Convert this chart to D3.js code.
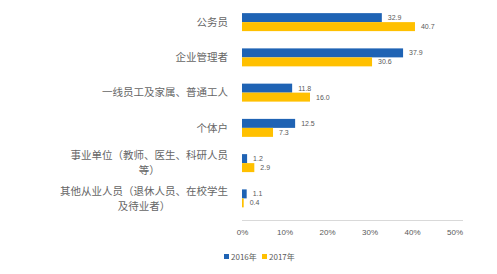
<!DOCTYPE html>
<html><head><meta charset="utf-8">
<script src="https://cdn.jsdelivr.net/npm/d3@7"></script>
<style>html,body{margin:0;padding:0;background:#fff;}svg{display:block;}</style>
</head><body>
<script>
const categories = [
  ["公务员"],
  ["企业管理者"],
  ["一线员工及家属、普通工人"],
  ["个体户"],
  ["事业单位（教师、医生、科研人员", "等）"],
  ["其他从业人员（退休人员、在校学生", "及待业者）"]
];
const seriesNames = ["2016年", "2017年"];
const values2016 = [32.9, 37.9, 11.8, 12.5, 1.2, 1.1];
const values2017 = [40.7, 30.6, 16.0, 7.3, 2.9, 0.4];
const tickValues = [0, 10, 20, 30, 40, 50];
const colors = ["#1f63b4", "#ffc000"];

const W = 497, H = 274;
const svg = d3.select("body").append("svg").attr("width", W).attr("height", H)
  .style("font-family", "'Noto Sans CJK SC', 'Noto Sans', sans-serif");

const x = d3.scaleLinear().domain([0, 50]).range([242, 454.5]);
const y0 = d3.scaleBand().domain(d3.range(categories.length)).range([4.5, 216]).paddingInner(0.49).paddingOuter(0.245);
const y1 = d3.scaleBand().domain([0, 1]).range([0, y0.bandwidth()]);

svg.append("line").attr("x1", x(0)).attr("x2", x(52)).attr("y1", 220.5).attr("y2", 220.5)
  .attr("stroke", "#d9d9d9").attr("stroke-width", 1);

const xAxis = d3.axisBottom(x).tickValues(tickValues).tickFormat(d => d + "%").tickSize(0).tickPadding(0);
const gx = svg.append("g").attr("transform", "translate(0,229)").call(xAxis);
gx.select(".domain").remove();
gx.selectAll("text").attr("fill", "#595959").style("font-size", "8px").style("font-family", "'Liberation Sans', Arial, sans-serif");

const rows = categories.map((c, i) => ({i, vals: [values2016[i], values2017[i]]}));
const g = svg.append("g");
const grp = g.selectAll("g.cat").data(rows).join("g").attr("class", "cat")
  .attr("transform", d => `translate(0,${y0(d.i)})`);
grp.selectAll("rect").data(d => d.vals.map((v, s) => ({v, s}))).join("rect")
  .attr("x", x(0)).attr("y", d => y1(d.s)).attr("height", y1.bandwidth())
  .attr("width", d => x(d.v) - x(0)).attr("fill", d => colors[d.s]);
grp.selectAll("text.val").data(d => d.vals.map((v, s) => ({v, s}))).join("text").attr("class", "val")
  .attr("x", d => x(d.v) + 6).attr("y", d => y1(d.s) + y1.bandwidth() / 2).attr("dy", "0.35em")
  .attr("fill", "#595959").style("font-size", "7px").style("font-family", "'Liberation Sans', Arial, sans-serif")
  .text(d => d.v.toFixed(1));

const lab = svg.append("g");
categories.forEach((lines, i) => {
  const cy = y0(i) + y0.bandwidth() / 2;
  const n = lines.length;
  const lh = 15;
  const t0 = lab.append("text").attr("x", 228).attr("text-anchor", "end")
    .attr("y", cy - (n - 1) * lh / 2).attr("dy", "0.35em")
    .attr("fill", "#666").style("font-size", "10.5px").text(lines[0]);
  if (n > 1) {
    const w = t0.node().getComputedTextLength();
    const cx = 228 - w / 2;
    for (let k = 1; k < n; k++) {
      lab.append("text").attr("x", cx).attr("text-anchor", "middle")
        .attr("y", cy - (n - 1) * lh / 2 + k * lh).attr("dy", "0.35em")
        .attr("fill", "#666").style("font-size", "10.5px").text(lines[k]);
    }
  }
});

const leg = svg.append("g").attr("transform", "translate(224,257)");
const legX = [0, 38];
seriesNames.forEach((name, s) => {
  const lg = leg.append("g").attr("transform", `translate(${legX[s]},0)`);
  lg.append("rect").attr("x", 0).attr("y", -3).attr("width", 5).attr("height", 5).attr("fill", colors[s]);
  lg.append("text").attr("x", 7).attr("y", 0).attr("dy", "0.35em").attr("fill", "#595959")
    .style("font-size", "8px").text(name);
});
</script>
</body></html>
